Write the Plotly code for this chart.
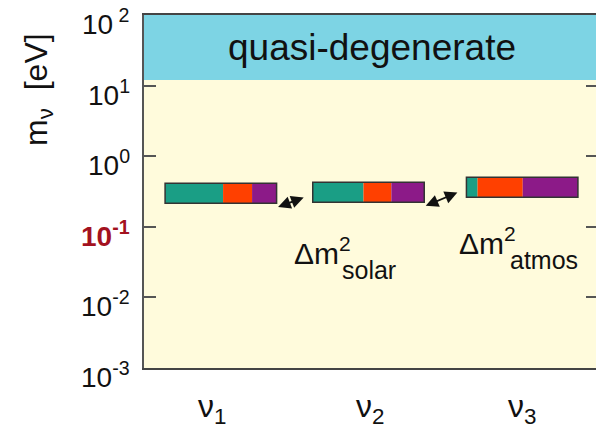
import math
import plotly.graph_objects as go

# ---------------- data ----------------
states = ["ν<sub>1</sub>", "ν<sub>2</sub>", "ν<sub>3</sub>"]
state_x = [1.0, 1.98, 3.0]            # box centres (category positions)
label_x = [0.94, 1.99, 3.0]           # positions of the ν labels
m_low = [0.215, 0.223, 0.262]         # eV, lower edge of each mass box
m_high = [0.414, 0.428, 0.503]        # eV, upper edge of each mass box
flavors = ["e", "mu", "tau"]
frac_e = [0.52, 0.455, 0.10]
frac_mu = [0.26, 0.25, 0.405]
frac_tau = [0.22, 0.295, 0.495]
qd_low, qd_high = 12, 100             # eV, quasi-degenerate band
y_tickvals = [1e-3, 1e-2, 1e-1, 1e0, 1e1, 1e2]
y_ticktext = ["10<sup>-3</sup>", "10<sup>-2</sup>",
              "<b><span style='color:#A3121F'>10<sup>-1</sup></span></b>",
              "10<sup>0</sup>", "10<sup>1</sup>", "10<sup> 2</sup>"]
dm_main = ["Δm<sup>2</sup>", "Δm<sup>2</sup>"]
dm_sub = ["solar", "atmos"]
dm_main_xy = [(1.472, 0.0455), (2.567, 0.063)]   # (x, eV)
dm_sub_xy = [(1.79, 0.0245), (2.906, 0.0339)]    # (x, eV)

# ---------------- style ----------------
colors = {"e": "#1A9E85", "mu": "#FF4000", "tau": "#8C1A88"}
box_w = 0.74
font = "Liberation Sans, Arial, sans-serif"

fractions = {"e": frac_e, "mu": frac_mu, "tau": frac_tau}

fig = go.Figure()
# invisible traces to set up the axes
fig.add_trace(go.Scatter(x=[state_x[0]], y=[m_low[0]], mode="markers",
                         marker=dict(opacity=0), hoverinfo="skip", showlegend=False))
fig.add_trace(go.Scatter(x=[state_x[0]], y=[m_low[0]], mode="markers", yaxis="y2",
                         marker=dict(opacity=0), hoverinfo="skip", showlegend=False))

shapes = []
# quasi-degenerate band
shapes.append(dict(type="rect", xref="paper", yref="y", x0=0, x1=1, y0=qd_low, y1=qd_high,
                   fillcolor="#7DD4E4", line=dict(width=0), layer="below"))
for i in range(len(states)):
    left = state_x[i] - box_w / 2
    x0 = left
    for f in flavors:
        w = fractions[f][i] * box_w
        shapes.append(dict(type="rect", xref="x", yref="y", x0=x0, x1=x0 + w,
                           y0=m_low[i], y1=m_high[i], fillcolor=colors[f],
                           line=dict(width=0)))
        x0 += w
    shapes.append(dict(type="rect", xref="x", yref="y", x0=left, x1=left + box_w,
                       y0=m_low[i], y1=m_high[i], fillcolor="rgba(0,0,0,0)",
                       line=dict(color="#333333", width=1.5)))

annotations = []
annotations.append(dict(text="quasi-degenerate", xref="paper", yref="y", x=0.504,
                        y=(math.log10(qd_low) + math.log10(qd_high)) / 2,
                        showarrow=False, font=dict(size=37, color="#111", family=font),
                        xanchor="center", yanchor="middle"))
# y tick labels (drawn slightly below their ticks, as in the reference)
for (txt, v) in zip(y_ticktext, y_tickvals):
    annotations.append(dict(text=txt, xref="paper", yref="y", x=0, y=math.log10(v),
                            xanchor="right", yanchor="middle", xshift=-12, yshift=-7,
                            showarrow=False, font=dict(size=28, color="#111", family=font)))
# double arrows between neighbouring boxes
for i in range(len(states) - 1):
    tail_x = state_x[i] + box_w / 2 + 0.0
    tail_y = m_low[i] * 0.87
    head_x = state_x[i + 1] - box_w / 2 - 0.06
    head_y = m_low[i + 1] * 1.17
    annotations.append(dict(x=head_x, y=math.log10(head_y), ax=tail_x, ay=math.log10(tail_y),
                            xref="x", yref="y", axref="x", ayref="y", text="",
                            showarrow=True, arrowhead=2, startarrowhead=2,
                            arrowside="end+start", arrowsize=1.4, startarrowsize=1.4,
                            arrowwidth=1.8, arrowcolor="#111", standoff=0,
                            startstandoff=0))
for (txt, (x, y)) in zip(dm_main, dm_main_xy):
    annotations.append(dict(text=txt, x=x, y=math.log10(y), xref="x", yref="y",
                            showarrow=False, xanchor="left", yanchor="middle",
                            font=dict(size=30, color="#111", family=font)))
for (txt, (x, y)) in zip(dm_sub, dm_sub_xy):
    annotations.append(dict(text=txt, x=x, y=math.log10(y), xref="x", yref="y",
                            showarrow=False, xanchor="left", yanchor="middle",
                            font=dict(size=25, color="#111", family=font)))
for (txt, x) in zip(states, label_x):
    annotations.append(dict(text=txt, x=x, y=0, xref="x", yref="paper",
                            showarrow=False, xanchor="center", yanchor="top",
                            yshift=-18, font=dict(size=32, color="#111", family=font)))
# y-axis title
annotations.append(dict(text="m<sub>ν</sub>\u00a0 [eV]", xref="paper", yref="paper",
                        x=-0.235, y=0.79, textangle=-90, showarrow=False,
                        xanchor="center", yanchor="middle",
                        font=dict(size=32, color="#111", family=font)))

fig.update_layout(
    width=596, height=430,
    margin=dict(l=144, r=0, t=15, b=62, autoexpand=False),
    paper_bgcolor="white", plot_bgcolor="#FFFBDC",
    showlegend=False,
    shapes=shapes, annotations=annotations,
    xaxis=dict(range=[0.49, 3.49], showgrid=False, zeroline=False, automargin=False,
               showticklabels=False, ticks="", showline=True, mirror=True,
               linecolor="#444", linewidth=1.5),
    yaxis=dict(type="log", range=[-3, 2], showgrid=False, zeroline=False,
               automargin=False, tickvals=y_tickvals, showticklabels=False,
               ticks="inside", ticklen=12, tickwidth=1.5, tickcolor="#555",
               showline=True, linecolor="#555", linewidth=1.5),
    yaxis2=dict(type="log", range=[-3, 2], overlaying="y", side="right",
                showgrid=False, zeroline=False, tickvals=y_tickvals, automargin=False,
                showticklabels=False, ticks="inside", ticklen=10, tickwidth=1.5,
                tickcolor="#555", showline=False),
)

fig.write_html("out.html")
